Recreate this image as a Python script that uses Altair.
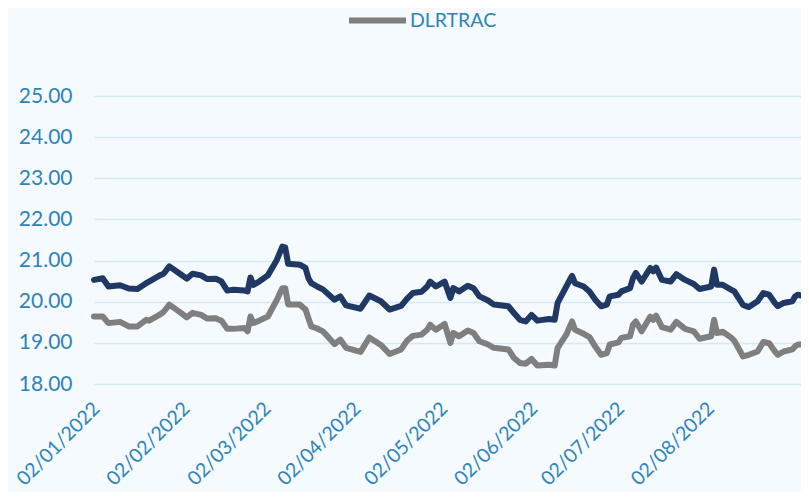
import altair as alt
import pandas as pd

# day offsets from 02/01/2022
DAY_OFFSETS = [0, 3, 5, 9, 12, 15, 18, 19, 23, 24, 26, 30, 32, 34, 37, 39, 42, 44, 46, 48,
               52, 53, 54, 55, 57, 60, 63, 65, 66, 67, 71, 73, 74, 75, 77, 79, 83, 85, 87, 92,
               95, 99, 102, 106, 108, 110, 113, 115, 116, 118, 121, 123, 124, 126, 129, 131, 133, 136, 138, 143,
               145, 147, 149, 151, 153, 157, 159, 160, 163, 165, 166, 169, 171, 173, 175, 177, 178, 181, 182, 185,
               186, 187, 189, 192, 193, 194, 196, 199, 201, 204, 207, 209, 213, 214, 215, 217, 220, 221, 224, 226,
               229, 231, 233, 235, 236, 238, 241, 242, 243, 244]

NAVY_VALUES = [20.53, 20.57, 20.37, 20.40, 20.32, 20.31, 20.45, 20.49, 20.65, 20.68, 20.86, 20.66, 20.56, 20.68, 20.64, 20.55, 20.56, 20.49, 20.27, 20.29,
               20.27, 20.25, 20.59, 20.41, 20.49, 20.64, 21.00, 21.34, 21.32, 20.92, 20.90, 20.82, 20.57, 20.45, 20.37, 20.30, 20.05, 20.13, 19.91, 19.83,
               20.15, 20.01, 19.81, 19.90, 20.07, 20.21, 20.24, 20.37, 20.49, 20.37, 20.49, 20.09, 20.33, 20.25, 20.39, 20.33, 20.13, 20.03, 19.93, 19.89,
               19.72, 19.56, 19.52, 19.68, 19.54, 19.58, 19.56, 19.97, 20.37, 20.63, 20.45, 20.37, 20.25, 20.05, 19.89, 19.93, 20.13, 20.17, 20.25, 20.33,
               20.57, 20.70, 20.49, 20.82, 20.74, 20.83, 20.53, 20.49, 20.67, 20.53, 20.43, 20.31, 20.37, 20.78, 20.41, 20.41, 20.29, 20.25, 19.92, 19.87,
               20.01, 20.21, 20.17, 19.97, 19.89, 19.97, 20.01, 20.13, 20.17, 20.15]

DLRTRAC_VALUES = [19.64, 19.64, 19.48, 19.51, 19.40, 19.40, 19.56, 19.54, 19.70, 19.75, 19.93, 19.73, 19.62, 19.73, 19.68, 19.59, 19.60, 19.54, 19.34, 19.34,
                  19.36, 19.28, 19.64, 19.48, 19.54, 19.64, 20.03, 20.33, 20.33, 19.93, 19.93, 19.81, 19.60, 19.40, 19.35, 19.28, 18.97, 19.08, 18.88, 18.78,
                  19.13, 18.95, 18.73, 18.84, 19.05, 19.17, 19.20, 19.32, 19.44, 19.32, 19.46, 19.00, 19.24, 19.16, 19.30, 19.24, 19.04, 18.96, 18.88, 18.84,
                  18.63, 18.51, 18.49, 18.61, 18.45, 18.47, 18.45, 18.88, 19.20, 19.52, 19.32, 19.22, 19.14, 18.91, 18.71, 18.75, 18.96, 19.01, 19.12, 19.16,
                  19.44, 19.52, 19.28, 19.64, 19.56, 19.66, 19.38, 19.32, 19.51, 19.34, 19.28, 19.10, 19.16, 19.56, 19.24, 19.27, 19.12, 19.05, 18.67, 18.71,
                  18.79, 19.02, 18.99, 18.79, 18.71, 18.79, 18.84, 18.92, 18.96, 18.96]

SERIES = ["DLRTRAC", "Serie 2"]
COLORS = ["#7F7F7F", "#1F3864"]
TICK_DATES = ["2022-01-02", "2022-02-02", "2022-03-02", "2022-04-02",
              "2022-05-02", "2022-06-02", "2022-07-02", "2022-08-02"]
Y_TICKS = [18, 19, 20, 21, 22, 23, 24, 25]

start = pd.Timestamp("2022-01-02")
dates = [start + pd.Timedelta(days=d) for d in DAY_OFFSETS]
df = pd.concat([
    pd.DataFrame({"date": dates, "value": DLRTRAC_VALUES, "series": SERIES[0]}),
    pd.DataFrame({"date": dates, "value": NAVY_VALUES, "series": SERIES[1]}),
])

FONT = "Lato"
TXT = "#2E84B9"

tick_vals = [alt.DateTime(year=int(t[:4]), month=int(t[5:7]), date=int(t[8:10])) for t in TICK_DATES]

chart = alt.Chart(df).mark_line(strokeWidth=6, strokeCap="round", strokeJoin="round").encode(
    x=alt.X("date:T",
            scale=alt.Scale(domain=[alt.DateTime(year=2022, month=1, date=2),
                                    alt.DateTime(year=2022, month=9, date=3)]),
            axis=alt.Axis(values=tick_vals, format="%d/%m/%Y", labelAngle=315,
                          labelFont=FONT, labelFontSize=19.5, labelColor=TXT,
                          labelPadding=15, labelOffset=-4, domain=False, ticks=False, grid=False,
                          title=None, labelOverlap=False)),
    y=alt.Y("value:Q",
            scale=alt.Scale(domain=[18, 25], nice=False, zero=False),
            axis=alt.Axis(values=Y_TICKS, format=".2f", labelFont=FONT, labelFontSize=21,
                          labelColor=TXT, labelPadding=22, domain=False, ticks=False,
                          grid=True, gridColor="#D3E9F4", gridWidth=1.5, title=None)),
    color=alt.Color("series:N",
                    scale=alt.Scale(domain=SERIES, range=COLORS),
                    legend=alt.Legend(values=["DLRTRAC"], orient="none", legendX=252, legendY=-107,
                                      title=None, symbolType="stroke", symbolStrokeWidth=6,
                                      symbolSize=3249, labelFont=FONT, labelFontSize=19.5,
                                      labelColor=TXT, labelOffset=1, padding=0)),
    detail="series:N",
).properties(
    width=707, height=288,
    autosize=alt.AutoSizeParams(type="none"),
    padding={"left": 86, "top": 88, "right": 0, "bottom": 108},
    background="#F5FAFE",
).configure_view(stroke=None)

chart.save("out.html", embed_options={"renderer": "svg", "actions": False})
